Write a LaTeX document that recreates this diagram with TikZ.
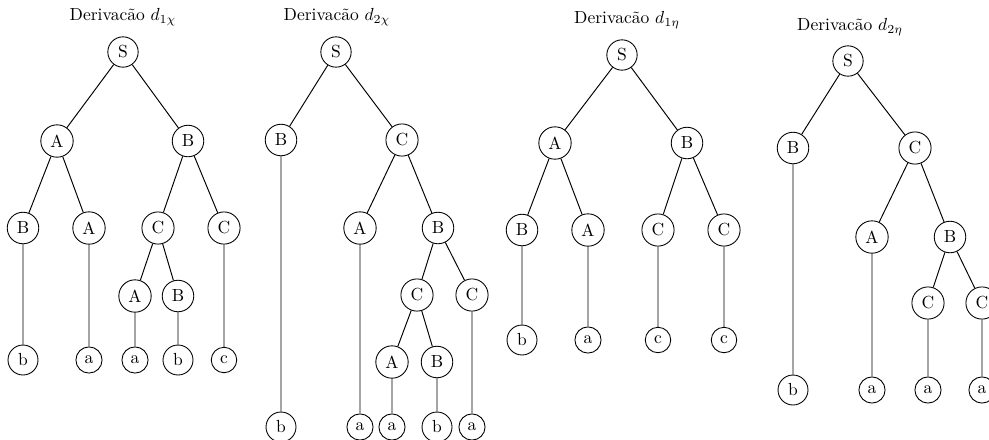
\documentclass[tikz,border=0pt]{standalone}
\begin{document}
\begin{tikzpicture}[x=0.5714pt,y=-0.5714pt,
  sym/.style={circle,draw,line width=0.5pt,inner sep=2.9pt},
  ttl/.style={inner sep=0pt},
  edge/.style={line width=0.55pt}]
\useasboundingbox (0,0) rectangle (989,439);

% ---------- Derivation d_{1chi} ----------
\node[ttl] (t1) at (123,17) {Derivacão $d_{1\chi}$};
\node[sym] (a0) at (123,52) {S};
\node[sym] (a1) at (57,141) {A};
\node[sym] (a2) at (188,141) {B};
\node[sym] (a3) at (23,228) {B};
\node[sym] (a4) at (89,228) {A};
\node[sym] (a5) at (158,228) {C};
\node[sym] (a6) at (224,228) {C};
\node[sym] (a7) at (135,296) {A};
\node[sym] (a8) at (178,296) {B};
\node[sym] (a9) at (23,360) {b};
\node[sym] (a10) at (89,360) {a};
\node[sym] (a11) at (135,360) {a};
\node[sym] (a12) at (178,360) {b};
\node[sym] (a13) at (224,360) {c};
\draw[edge] (a0)--(a1) (a0)--(a2) (a1)--(a3) (a1)--(a4) (a2)--(a5) (a2)--(a6)
  (a5)--(a7) (a5)--(a8) (a3)--(a9) (a4)--(a10) (a7)--(a11) (a8)--(a12) (a6)--(a13);

% ---------- Derivation d_{2chi} ----------
\node[ttl] (t2) at (337,17) {Derivacão $d_{2\chi}$};
\node[sym] (b0) at (336,52) {S};
\node[sym] (b1) at (281,140) {B};
\node[sym] (b2) at (402,140) {C};
\node[sym] (b3) at (360,228) {A};
\node[sym] (b4) at (438,228) {B};
\node[sym] (b5) at (417,295) {C};
\node[sym] (b6) at (472,295) {C};
\node[sym] (b7) at (392,362) {A};
\node[sym] (b8) at (437,362) {B};
\node[sym] (b9) at (281,427) {b};
\node[sym] (b10) at (360,427) {a};
\node[sym] (b11) at (392,427) {a};
\node[sym] (b12) at (437,427) {b};
\node[sym] (b13) at (472,427) {a};
\draw[edge] (b0)--(b1) (b0)--(b2) (b2)--(b3) (b2)--(b4) (b4)--(b5) (b4)--(b6)
  (b5)--(b7) (b5)--(b8) (b1)--(b9) (b3)--(b10) (b7)--(b11) (b8)--(b12) (b6)--(b13);

% ---------- Derivation d_{1eta} ----------
\node[ttl] (t3) at (627,20) {Derivacão $d_{1\eta}$};
\node[sym] (c0) at (622,55) {S};
\node[sym] (c1) at (555,143) {A};
\node[sym] (c2) at (687,143) {B};
\node[sym] (c3) at (522,230) {B};
\node[sym] (c4) at (588,230) {A};
\node[sym] (c5) at (658,230) {C};
\node[sym] (c6) at (724,230) {C};
\node[sym] (c7) at (522,340) {b};
\node[sym] (c8) at (588,340) {a};
\node[sym] (c9) at (658,340) {c};
\node[sym] (c10) at (724,340) {c};
\draw[edge] (c0)--(c1) (c0)--(c2) (c1)--(c3) (c1)--(c4) (c2)--(c5) (c2)--(c6)
  (c3)--(c7) (c4)--(c8) (c5)--(c9) (c6)--(c10);

% ---------- Derivation d_{2eta} ----------
\node[ttl] (t4) at (850,27) {Derivacão $d_{2\eta}$};
\node[sym] (d0) at (848,61) {S};
\node[sym] (d1) at (793,148) {B};
\node[sym] (d2) at (915,148) {C};
\node[sym] (d3) at (872,237) {A};
\node[sym] (d4) at (950,237) {B};
\node[sym] (d5) at (928,303) {C};
\node[sym] (d6) at (982,303) {C};
\node[sym] (d7) at (793,390) {b};
\node[sym] (d8) at (872,390) {a};
\node[sym] (d9) at (928,390) {a};
\node[sym] (d10) at (982,390) {a};
\draw[edge] (d0)--(d1) (d0)--(d2) (d2)--(d3) (d2)--(d4) (d4)--(d5) (d4)--(d6)
  (d1)--(d7) (d3)--(d8) (d5)--(d9) (d6)--(d10);
\end{tikzpicture}
\end{document}
